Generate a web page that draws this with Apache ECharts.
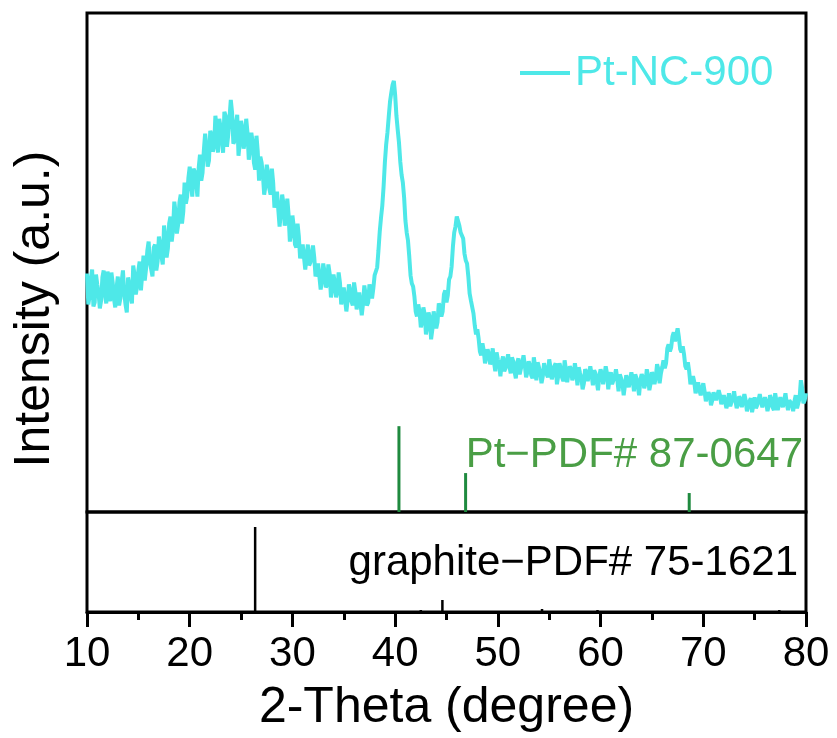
<!DOCTYPE html>
<html>
<head>
<meta charset="utf-8">
<script src="https://cdn.jsdelivr.net/npm/echarts@6/dist/echarts.min.js"></script>
<style>
html,body{margin:0;padding:0;background:#fff;}
#chart{width:837px;height:738px;}
</style>
</head>
<body>
<div id="chart"></div>
<script>
// XRD pattern of Pt-NC-900: [2-theta (deg), intensity (a.u.)]
const xrdPtNC900 = [
[10,239],[10.125,208],[10.25,216],[10.375,234],[10.5,243],[10.625,206],[10.75,210],[10.875,238],
[11,228],[11.125,219],[11.25,204],[11.375,212],[11.5,235],[11.625,242],[11.75,218],[11.875,209],
[12,241],[12.125,232],[12.25,211],[12.375,240],[12.5,230],[12.625,214],[12.75,205],[12.875,224],
[13,236],[13.125,207],[13.25,214],[13.375,231],[13.5,242],[13.625,219],[13.75,208],[13.875,200],
[14,235],[14.125,228],[14.25,215],[14.375,209],[14.5,247],[14.625,238],[14.75,218],[14.875,226],
[15,242],[15.125,251],[15.25,222],[15.375,238],[15.5,257],[15.625,232],[15.75,244],[15.875,262],
[16,271],[16.125,250],[16.25,243],[16.375,236],[16.5,265],[16.625,268],[16.75,242],[16.875,251],
[17,276],[17.125,268],[17.25,256],[17.375,248],[17.5,287],[17.625,276],[17.75,255],[17.875,264],
[18,289],[18.125,296],[18.25,271],[18.375,283],[18.5,311],[18.625,300],[18.75,279],[18.875,288],
[19,310],[19.125,318],[19.25,289],[19.375,301],[19.5,330],[19.625,309],[19.75,316],[19.875,335],
[20,346],[20.125,328],[20.25,316],[20.375,344],[20.5,341],[20.625,330],[20.75,316],[20.875,345],
[21,358],[21.125,332],[21.25,340],[21.375,362],[21.5,379],[21.625,366],[21.75,346],[21.875,352],
[22,382],[22.125,378],[22.25,361],[22.375,366],[22.5,397],[22.625,384],[22.75,360],[22.875,394],
[23,386],[23.125,372],[23.25,360],[23.375,401],[23.5,397],[23.625,366],[23.75,378],[23.875,395],
[24,413],[24.125,400],[24.25,369],[24.375,372],[24.5,389],[24.625,398],[24.75,357],[24.875,370],
[25,392],[25.125,385],[25.25,364],[25.375,371],[25.5,394],[25.625,380],[25.75,353],[25.875,364],
[26,380],[26.125,371],[26.25,350],[26.375,343],[26.5,377],[26.625,361],[26.75,332],[26.875,356],
[27,350],[27.125,338],[27.25,318],[27.375,327],[27.5,348],[27.625,340],[27.75,324],[27.875,318],
[28,344],[28.125,330],[28.25,305],[28.375,312],[28.5,321],[28.625,303],[28.75,286],[28.875,300],
[29,318],[29.125,309],[29.25,287],[29.375,295],[29.5,314],[29.625,298],[29.75,271],[29.875,280],
[30,297],[30.125,286],[30.25,268],[30.375,265],[30.5,289],[30.625,276],[30.75,254],[30.875,262],
[31,268],[31.125,266],[31.25,243],[31.375,255],[31.5,268],[31.625,247],[31.75,250],[31.875,259],
[32,267],[32.125,255],[32.25,236],[32.375,241],[32.5,249],[32.625,250],[32.75,223],[32.875,232],
[33,249],[33.125,241],[33.25,225],[33.375,228],[33.5,248],[33.625,239],[33.75,215],[33.875,224],
[34,238],[34.125,230],[34.25,215],[34.375,221],[34.5,240],[34.625,230],[34.75,208],[34.875,216],
[35,225],[35.125,224],[35.25,201],[35.375,212],[35.5,228],[35.625,222],[35.75,211],[35.875,207],
[36,230],[36.125,221],[36.25,203],[36.375,212],[36.5,220],[36.625,218],[36.75,197],[36.875,209],
[37,227],[37.125,218],[37.25,207],[37.375,210],[37.5,228],[37.625,222],[37.75,214],[37.875,224],
[38,237],[38.125,236],[38.25,245],[38.375,262],[38.5,281],[38.625,295],[38.75,307],[38.875,326],
[39,350],[39.125,368],[39.25,380],[39.375,396],[39.5,411],[39.625,420],[39.75,428],[39.875,432],
[40,418],[40.125,397],[40.25,383],[40.375,370],[40.5,351],[40.625,338],[40.75,330],[40.875,315],
[41,292],[41.125,280],[41.25,272],[41.375,256],[41.5,237],[41.625,229],[41.75,226],[41.875,216],
[42,201],[42.125,196],[42.25,208],[42.375,201],[42.5,185],[42.625,191],[42.75,205],[42.875,198],
[43,178],[43.125,186],[43.25,200],[43.375,195],[43.5,173],[43.625,183],[43.75,201],[43.875,194],
[44,184],[44.125,190],[44.25,209],[44.375,205],[44.5,196],[44.625,201],[44.75,218],[44.875,222],
[45,210],[45.125,217],[45.25,233],[45.375,236],[45.5,246],[45.625,266],[45.75,280],[45.875,286],
[46,296],[46.125,298],[46.25,287],[46.375,280],[46.5,282],[46.625,274],[46.75,259],[46.875,252],
[47,249],[47.125,236],[47.25,219],[47.375,212],[47.5,211],[47.625,199],[47.75,187],[47.875,178],
[48,183],[48.125,174],[48.25,161],[48.375,157],[48.5,169],[48.625,162],[48.75,149],[48.875,151],
[49,163],[49.125,158],[49.25,148],[49.375,152],[49.5,164],[49.625,150],[49.75,141],[49.875,160],
[50,153],[50.125,147],[50.25,136],[50.375,150],[50.5,156],[50.625,141],[50.75,144],[50.875,152],
[51,158],[51.125,146],[51.25,139],[51.375,155],[51.5,151],[51.625,141],[51.75,134],[51.875,149],
[52,154],[52.125,138],[52.25,140],[52.375,150],[52.5,157],[52.625,147],[52.75,135],[52.875,140],
[53,151],[53.125,147],[53.25,137],[53.375,134],[53.5,155],[53.625,146],[53.75,132],[53.875,150],
[54,145],[54.125,139],[54.25,129],[54.375,136],[54.5,149],[54.625,147],[54.75,138],[54.875,135],
[55,153],[55.125,145],[55.25,133],[55.375,138],[55.5,146],[55.625,149],[55.75,128],[55.875,136],
[56,149],[56.125,144],[56.25,135],[56.375,131],[56.5,152],[56.625,143],[56.75,130],[56.875,139],
[57,146],[57.125,143],[57.25,132],[57.375,137],[57.5,149],[57.625,140],[57.75,127],[57.875,145],
[58,139],[58.125,135],[58.25,123],[58.375,129],[58.5,143],[58.625,140],[58.75,131],[58.875,129],
[59,146],[59.125,138],[59.25,127],[59.375,142],[59.5,139],[59.625,131],[59.75,122],[59.875,136],
[60,143],[60.125,138],[60.25,128],[60.375,127],[60.5,146],[60.625,139],[60.75,123],[60.875,134],
[61,140],[61.125,128],[61.25,126],[61.375,136],[61.5,143],[61.625,133],[61.75,121],[61.875,138],
[62,134],[62.125,129],[62.25,117],[62.375,127],[62.5,137],[62.625,136],[62.75,125],[62.875,127],
[63,140],[63.125,133],[63.25,121],[63.375,138],[63.5,134],[63.625,126],[63.75,117],[63.875,132],
[64,138],[64.125,135],[64.25,124],[64.375,129],[64.5,143],[64.625,136],[64.75,122],[64.875,129],
[65,140],[65.125,137],[65.25,128],[65.375,135],[65.5,148],[65.625,143],[65.75,129],[65.875,139],
[66,145],[66.125,152],[66.25,144],[66.375,149],[66.5,164],[66.625,168],[66.75,161],[66.875,165],
[67,176],[67.125,180],[67.25,171],[67.375,172],[67.5,184],[67.625,175],[67.75,163],[67.875,160],
[68,166],[68.125,158],[68.25,146],[68.375,143],[68.5,150],[68.625,141],[68.75,128],[68.875,127],
[69,136],[69.125,130],[69.25,119],[69.375,125],[69.5,130],[69.625,122],[69.75,117],[69.875,119],
[70,129],[70.125,121],[70.25,111],[70.375,116],[70.5,120],[70.625,117],[70.75,107],[70.875,112],
[71,120],[71.125,118],[71.25,112],[71.375,110],[71.5,122],[71.625,117],[71.75,108],[71.875,112],
[72,117],[72.125,115],[72.25,104],[72.375,110],[72.5,119],[72.625,106],[72.75,108],[72.875,114],
[73,121],[73.125,112],[73.25,104],[73.375,108],[73.5,116],[73.625,112],[73.75,105],[73.875,104],
[74,118],[74.125,112],[74.25,101],[74.375,106],[74.5,111],[74.625,114],[74.75,100],[74.875,107],
[75,115],[75.125,104],[75.25,107],[75.375,112],[75.5,118],[75.625,111],[75.75,105],[75.875,103],
[76,115],[76.125,110],[76.25,101],[76.375,107],[76.5,117],[76.625,113],[76.75,105],[76.875,102],
[77,119],[77.125,111],[77.25,102],[77.375,108],[77.5,115],[77.625,114],[77.75,105],[77.875,106],
[78,119],[78.125,109],[78.25,102],[78.375,112],[78.5,113],[78.625,108],[78.75,101],[78.875,111],
[79,117],[79.125,104],[79.25,109],[79.375,114],[79.5,132],[79.625,124],[79.75,109],[79.875,112],
[80,119]
];
// Pt reference PDF# 87-0647 sticks: [2-theta, relative height]
const ptRefPeaks = [[40.37,86],[46.86,39],[68.63,19]];
// graphite reference PDF# 75-1621 sticks: [2-theta, relative height]
const graphiteRefPeaks = [[26.37,85],[42.5,2],[44.6,12],[54.3,3],[59.7,2],[77.4,2]];
const xTicks = [10,20,30,40,50,60,70,80];

const FONT = "'Liberation Sans', Arial, Helvetica, sans-serif";
const CYAN = '#4ee8e8';
const GREEN_LINE = '#1f8a3f';
const GREEN_TEXT = '#4a9e45';

function stickRenderer(color, width) {
  return function (params, api) {
    const x = api.value(0), h = api.value(1);
    const p0 = api.coord([x, 0]);
    const p1 = api.coord([x, h]);
    return {
      type: 'line',
      shape: { x1: p0[0], y1: p0[1], x2: p1[0], y2: p1[1] },
      style: { stroke: color, lineWidth: width }
    };
  };
}

const chart = echarts.init(document.getElementById('chart'), null, { renderer: 'canvas' });
chart.setOption({
  animation: false,
  backgroundColor: '#fff',
  grid: [
    { left: 87, right: 31, top: 13, height: 499, show: true, borderColor: '#000', borderWidth: 3, backgroundColor: 'transparent' },
    { left: 87, right: 31, top: 512, height: 100, show: true, borderColor: '#000', borderWidth: 3, backgroundColor: 'transparent' }
  ],
  legend: {
    data: ['Pt-NC-900'],
    left: 515,
    top: 47,
    icon: 'rect',
    itemWidth: 50,
    itemHeight: 4,
    textStyle: { color: CYAN, fontSize: 42, fontFamily: FONT }
  },
  xAxis: [
    { gridIndex: 0, type: 'value', min: 10, max: 80, interval: 10,
      axisLine: { show: false }, axisTick: { show: false }, axisLabel: { show: false }, splitLine: { show: false } },
    { gridIndex: 1, type: 'value', min: xTicks[0], max: xTicks[xTicks.length - 1], interval: 10,
      axisLine: { show: true, onZero: false, lineStyle: { color: '#000', width: 3 } },
      axisTick: { show: true, inside: false, length: 15, lineStyle: { color: '#000', width: 3 } },
      minorTick: { show: true, splitNumber: 2, length: 8, lineStyle: { color: '#000', width: 3 } },
      splitLine: { show: false },
      axisLabel: { show: true, color: '#000', fontSize: 42, fontFamily: FONT, margin: 21,
        formatter: function (v) { return xTicks.indexOf(v) >= 0 ? String(v) : ''; } },
      name: '2-Theta (degree)', nameLocation: 'middle', nameGap: 71,
      nameTextStyle: { color: '#000', fontSize: 50, fontFamily: FONT }
    }
  ],
  yAxis: [
    { gridIndex: 0, type: 'value', min: 0, max: 500, show: false },
    { gridIndex: 1, type: 'value', min: 0, max: 100, show: false }
  ],
  series: [
    { name: 'Pt-NC-900', type: 'line', xAxisIndex: 0, yAxisIndex: 0, data: xrdPtNC900,
      showSymbol: false, symbol: 'none', lineStyle: { color: CYAN, width: 4 }, itemStyle: { color: CYAN } },
    { name: 'Pt-ref', type: 'custom', xAxisIndex: 0, yAxisIndex: 0, data: ptRefPeaks,
      renderItem: stickRenderer(GREEN_LINE, 3) },
    { name: 'graphite-ref', type: 'custom', xAxisIndex: 1, yAxisIndex: 1, data: graphiteRefPeaks,
      renderItem: stickRenderer('#000', 2.5) }
  ],
  graphic: [
    { type: 'text', x: 35, y: 309, rotation: Math.PI / 2,
      style: { text: 'Intensity (a.u.)', fontSize: 50, fontFamily: FONT, fill: '#000',
        align: 'center', verticalAlign: 'middle', textAlign: 'center', textVerticalAlign: 'middle' } },
    { type: 'text', x: 803, y: 455,
      style: { text: 'Pt\u2212PDF# 87-0647', fontSize: 42, fontFamily: FONT, fill: GREEN_TEXT,
        align: 'right', verticalAlign: 'middle', textAlign: 'right', textVerticalAlign: 'middle' } },
    { type: 'text', x: 798, y: 563,
      style: { text: 'graphite\u2212PDF# 75-1621', fontSize: 42, fontFamily: FONT, fill: '#000',
        align: 'right', verticalAlign: 'middle', textAlign: 'right', textVerticalAlign: 'middle' } }
  ]
});
</script>
</body>
</html>
